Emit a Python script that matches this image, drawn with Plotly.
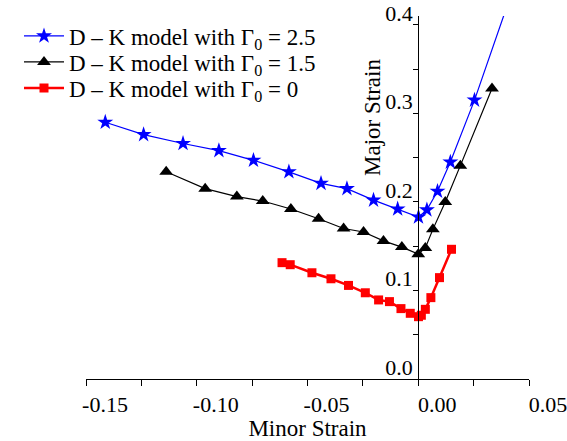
import plotly.graph_objects as go

# Data
blue_x = [-0.1413, -0.1240, -0.1062, -0.0900, -0.0744, -0.0584, -0.0439, -0.0322, -0.0202,
          -0.0093, 0.0001, 0.0039, 0.0087, 0.0145, 0.0254, 0.0420]
blue_y = [0.290, 0.276, 0.266, 0.258, 0.247, 0.234, 0.221, 0.215, 0.202,
          0.192, 0.183, 0.191, 0.212, 0.245, 0.315, 0.435]

black_x = [-0.1138, -0.0962, -0.0819, -0.0702, -0.0575, -0.0450, -0.0337, -0.0247,
           -0.0157, -0.0074, 0.0000, 0.0032, 0.0066, 0.0122, 0.0190, 0.0333]
black_y = [0.234, 0.215, 0.206, 0.201, 0.192, 0.181, 0.170, 0.166,
           0.156, 0.149, 0.141, 0.148, 0.169, 0.200, 0.241, 0.328]

red_x = [-0.0615, -0.0578, -0.0480, -0.0394, -0.0315, -0.0239, -0.0179, -0.0130,
         -0.0078, -0.0036, 0.0001, 0.0014, 0.0032, 0.0057, 0.0096, 0.0150]
red_y = [0.1314, 0.1291, 0.1200, 0.1132, 0.1057, 0.0974, 0.0893, 0.0874,
         0.0795, 0.0742, 0.0704, 0.0720, 0.0787, 0.0919, 0.1145, 0.1465]

names = ["D – K model with Γ<sub>0</sub> = 2.5",
         "D – K model with Γ<sub>0</sub> = 1.5",
         "D – K model with Γ<sub>0</sub> = 0"]

x_tickvals = [-0.15, -0.10, -0.05, 0.00, 0.05]
x_ticktext = ["-0.15", "-0.10", "-0.05", "0.00", "0.05"]
y_tickvals = [0.0, 0.1, 0.2, 0.3, 0.4]
y_ticktext = ["0.0", "0.1", "0.2", "0.3", "0.4"]

FONT = "Liberation Serif"
W, H = 567, 441
PL, PR, PT, PB = 86, 529, 16, 379  # plot area in pixels

fig = go.Figure()
fig.add_trace(go.Scatter(x=blue_x, y=blue_y, mode="lines+markers", name=names[0],
                         legend="legend",
                         line=dict(color="#0000ff", width=1.2),
                         marker=dict(symbol="star", size=12, color="#0000ff")))
fig.add_trace(go.Scatter(x=black_x, y=black_y, mode="lines+markers", name=names[1],
                         legend="legend2",
                         line=dict(color="black", width=1.2),
                         marker=dict(symbol="triangle-up", size=12, color="black")))
fig.add_trace(go.Scatter(x=red_x, y=red_y, mode="lines+markers", name=names[2],
                         legend="legend3",
                         line=dict(color="#ff0000", width=2.5),
                         marker=dict(symbol="square", size=9, color="#ff0000")))

def leg(ypix):
    return dict(x=19 / W, y=1 - ypix / H, xanchor="left", yanchor="middle",
                bgcolor="rgba(0,0,0,0)", font=dict(family=FONT, size=23),
                itemwidth=40, borderwidth=0)

fig.update_layout(
    width=W, height=H,
    margin=dict(l=0, r=0, t=0, b=0),
    plot_bgcolor="white", paper_bgcolor="white",
    font=dict(family=FONT, size=22, color="black"),
    showlegend=True,
    legend=leg(36), legend2=leg(62), legend3=leg(88),
    xaxis=dict(range=[-0.15, 0.05], showgrid=False, zeroline=False,
               showline=True, linecolor="black", linewidth=1,
               ticks="outside", ticklen=6, tickcolor="black",
               tickvals=x_tickvals, ticktext=x_ticktext,
               ticklabelshift=19, ticklabeloverflow="allow",
               minor=dict(dtick=0.025, ticks="outside", ticklen=6, tickcolor="black"),
               title=dict(text="Minor Strain", standoff=0,
                          font=dict(family=FONT, size=23)),
               domain=[PL / W, PR / W], automargin=False),
    yaxis=dict(range=[0, 0.41], showgrid=False, zeroline=False,
               showline=True, linecolor="black", linewidth=1,
               anchor="free", position=(PL + 0.75 * (PR - PL)) / W,
               ticks="outside", ticklen=5, tickcolor="black",
               tickvals=y_tickvals, ticktext=y_ticktext,
               ticklabelshift=-12, ticklabelstandoff=-4, ticklabeloverflow="allow",
               minor=dict(dtick=0.05, ticks="outside", ticklen=5, tickcolor="black"),
               domain=[1 - PB / H, 1 - PT / H], automargin=False),
)

fig.add_annotation(text="Major Strain", xref="paper", yref="paper",
                   x=372 / W, y=1 - 118 / H, textangle=-90, showarrow=False,
                   font=dict(family=FONT, size=23), xanchor="center", yanchor="middle")

fig.write_html("out.html")
